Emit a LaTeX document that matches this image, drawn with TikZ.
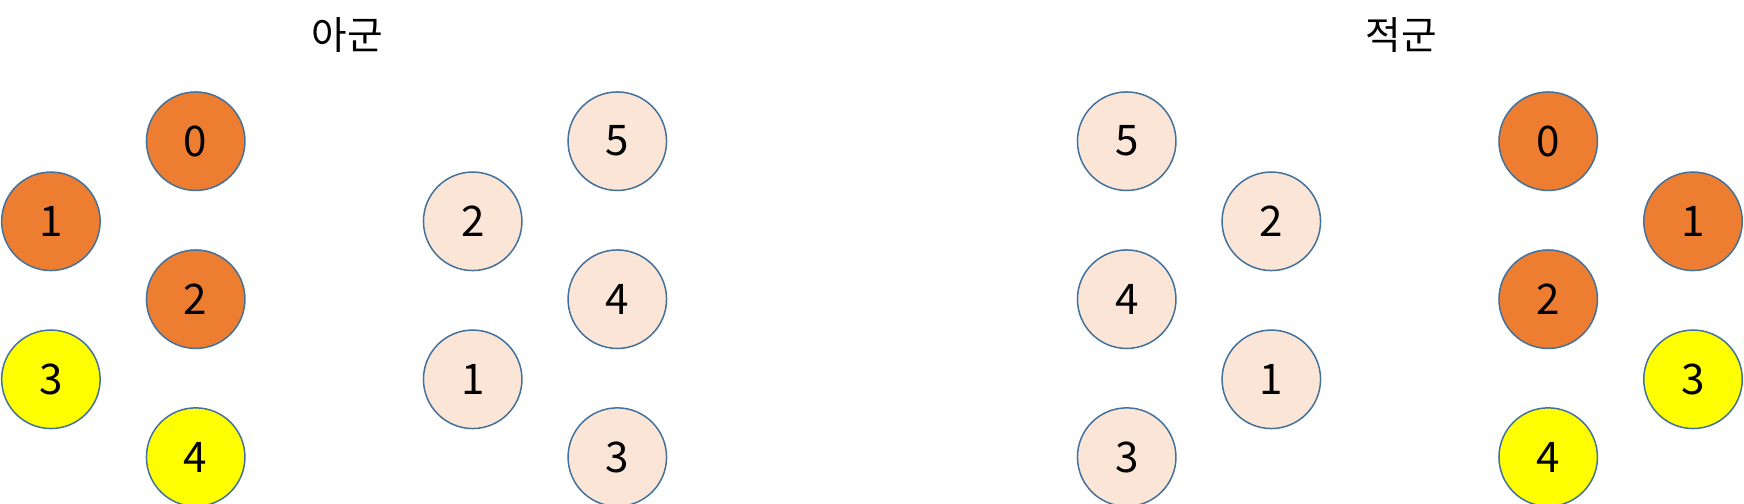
\documentclass[tikz,border=0pt]{standalone}
\usepackage{fontspec}
\setmainfont{Noto Sans CJK KR}
\usepackage{tikz}
\usetikzlibrary{positioning}
\definecolor{unitorange}{HTML}{ED7D31}
\definecolor{unityellow}{HTML}{FFFF00}
\definecolor{unitpale}{HTML}{FBE5D6}
\definecolor{unitedge}{HTML}{41719C}
\tikzset{unit/.style={circle,draw=unitedge,line width=0.85pt,minimum size=1.97cm,inner sep=0pt,font=\fontsize{24}{28}\selectfont},
  hit/.style={unit,fill=unitorange},
  near/.style={unit,fill=unityellow},
  far/.style={unit,fill=unitpale},
  title/.style={font=\fontsize{22}{26}\selectfont}}

\begin{document}
\begin{tikzpicture}
\useasboundingbox (0,0) rectangle (34.88,10.06);
\node[title] (ally) at (6.94,9.36){아군}; \node[title] (enemy) at (28.03,9.36){적군};
% ally side
\node[hit] (a0) at (3.914,7.236){0}; \node[hit] (a1) at (1.018,5.634){1};
\node[hit] (a2) at (3.914,4.076){2}; \node[near] (a3) at (1.018,2.474){3};
\node[near] (a4) at (3.914,0.918){4};
\node[far] (ap5) at (12.346,7.236){5}; \node[far] (ap2) at (9.454,5.634){2};
\node[far] (ap4) at (12.346,4.076){4}; \node[far] (ap1) at (9.454,2.474){1};
\node[far] (ap3) at (12.346,0.918){3};
% enemy side
\node[far] (ep5) at (22.534,7.236){5}; \node[far] (ep2) at (25.426,5.634){2};
\node[far] (ep4) at (22.534,4.076){4}; \node[far] (ep1) at (25.426,2.474){1};
\node[far] (ep3) at (22.534,0.918){3};
\node[hit] (e0) at (30.964,7.236){0}; \node[hit] (e1) at (33.86,5.634){1};
\node[hit] (e2) at (30.964,4.076){2}; \node[near] (e3) at (33.86,2.474){3};
\node[near] (e4) at (30.964,0.918){4};
\end{tikzpicture}
\end{document}
